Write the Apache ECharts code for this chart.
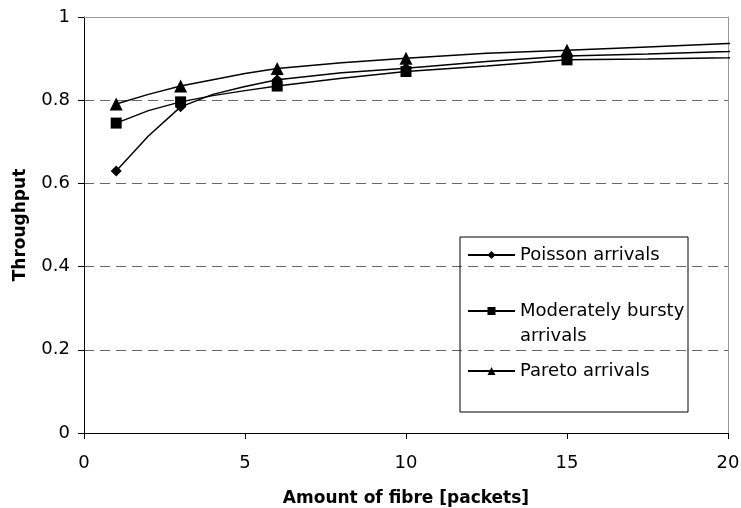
<!DOCTYPE html>
<html><head><meta charset="utf-8">
<script src="https://cdn.jsdelivr.net/npm/echarts@6/dist/echarts.min.js"></script>
<style>html,body{margin:0;padding:0;background:#fff}#c{width:741px;height:508px}</style>
</head><body><div id="c"></div>
<script>
const xValues = [1, 2, 3, 4, 5, 6, 8, 10, 12.5, 15, 17.5, 20, 20.4];
const markerX = [1, 3, 6, 10, 15];
const poisson = [0.630, 0.714, 0.784, 0.814, 0.833, 0.849, 0.866, 0.877, 0.893, 0.906, 0.911, 0.917, 0.918];
const moderate = [0.745, 0.775, 0.796, 0.811, 0.823, 0.834, 0.853, 0.869, 0.882, 0.897, 0.899, 0.902, 0.903];
const pareto = [0.791, 0.814, 0.834, 0.849, 0.864, 0.876, 0.890, 0.901, 0.913, 0.920, 0.928, 0.936, 0.937];
const names = ['Poisson arrivals', 'Moderately bursty arrivals', 'Pareto arrivals'];
const legendLabels = ['Poisson arrivals', '\nModerately bursty\narrivals', 'Pareto arrivals'];
const xTicks = [0, 5, 10, 15, 20];
const yTicks = [0, 0.2, 0.4, 0.6, 0.8, 1];

const FONT = '"DejaVu Sans", "Liberation Sans", Arial, sans-serif';
function mk(vals) {
  return xValues.map((x, i) => ({
    value: [x, vals[i]],
    symbol: markerX.includes(x) ? undefined : 'none'
  }));
}
const symbols = ['diamond', 'rect', 'triangle'];
const sizes = [11, 11, 13];
const series = [poisson, moderate, pareto].map((vals, i) => ({
  name: names[i],
  type: 'line',
  data: mk(vals),
  symbol: symbols[i],
  symbolSize: sizes[i],
  showAllSymbol: true,
  clip: false,
  lineStyle: { color: '#000', width: 1.5 },
  itemStyle: { color: '#000' },
  emphasis: { disabled: true },
  animation: false
}));

const legendTops = [242.5, 273.5, 358.5];
const legends = names.map((n, i) => ({
  data: [n],
  left: 467,
  top: legendTops[i],
  itemWidth: 47,
  itemHeight: 10,
  padding: 0,
  formatter: () => legendLabels[i],
  textStyle: { fontFamily: FONT, fontSize: 18, color: '#000', lineHeight: 25 },
  selectedMode: false
}));

const chart = echarts.init(document.getElementById('c'));
chart.setOption({
  animation: false,
  grid: { left: 84, right: 13, top: 17, bottom: 75, outerBoundsMode: 'none', containLabel: false },
  legend: legends,
  graphic: [{
    type: 'rect', shape: { x: 460, y: 237, width: 228, height: 175 },
    style: { fill: 'none', stroke: '#000', lineWidth: 1 }, z: 5
  }],
  xAxis: [{
    type: 'value', min: xTicks[0], max: xTicks[xTicks.length - 1], interval: 5,
    name: 'Amount of fibre [packets]', nameLocation: 'middle', nameGap: 57,
    nameTextStyle: { fontFamily: FONT, fontSize: 17, fontWeight: 'bold', color: '#000' },
    axisLine: { onZero: false, lineStyle: { color: '#000', width: 1 } },
    axisTick: { show: true, inside: false, length: 6, lineStyle: { color: '#000' } },
    axisLabel: { fontFamily: FONT, fontSize: 18, color: '#000', margin: 21 },
    splitLine: { show: false }
  }, {
    type: 'value', position: 'top', min: 0, max: 20,
    axisLine: { show: true, onZero: false, lineStyle: { color: '#999', width: 1 } },
    axisTick: { show: false }, axisLabel: { show: false }, splitLine: { show: false }
  }],
  yAxis: [{
    type: 'value', min: yTicks[0], max: yTicks[yTicks.length - 1], interval: 0.2,
    name: 'Throughput', nameLocation: 'middle', nameGap: 55, nameRotate: 90,
    nameTextStyle: { fontFamily: FONT, fontSize: 17, fontWeight: 'bold', color: '#000' },
    axisLine: { show: true, lineStyle: { color: '#000', width: 1 } },
    axisTick: { show: true, inside: false, length: 6, lineStyle: { color: '#000' } },
    axisLabel: { fontFamily: FONT, fontSize: 18, color: '#000', margin: 14,
      formatter: v => (Math.round(v * 10) / 10).toString() },
    splitLine: { show: true, lineStyle: { color: '#666', type: [10, 6], width: 1 } }
  }, {
    type: 'value', position: 'right', min: 0, max: 1,
    axisLine: { show: true, onZero: false, lineStyle: { color: '#999', width: 1 } },
    axisTick: { show: false }, axisLabel: { show: false }, splitLine: { show: false }
  }],
  series: series
});
</script></body></html>
